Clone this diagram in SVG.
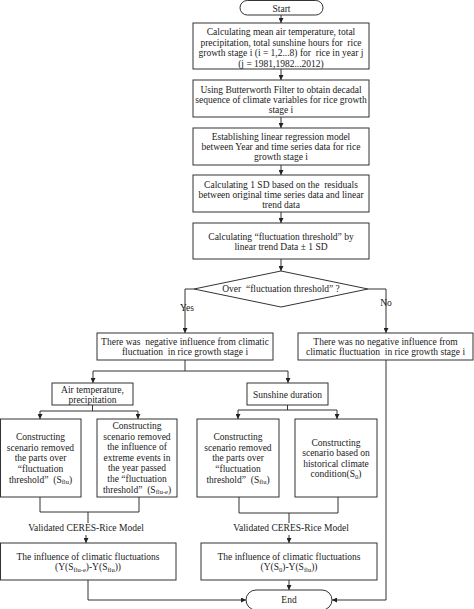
<svg xmlns="http://www.w3.org/2000/svg" width="474" height="609" viewBox="0 0 474 609">
<style>
.box{fill:#fff;stroke:#333;stroke-width:1}
.ln{fill:none;stroke:#333;stroke-width:1}
text{font-family:"Liberation Serif","Times New Roman",serif;font-size:9.5px;fill:#1a1a1a;text-anchor:middle;white-space:pre}
.sub{font-size:6.5px}
</style>
<defs>
<marker id="arr" viewBox="0 0 6 6" refX="6" refY="3" markerWidth="5" markerHeight="5" orient="auto" markerUnits="userSpaceOnUse">
<path d="M0,0 L6,3 L0,6 z" fill="#222"/>
</marker>
</defs>
<rect width="474" height="609" fill="#fff"/>
<g id="connectors" class="ln">
<path d="M281,15 V23" marker-end="url(#arr)"/>
<path d="M281,69 V80" marker-end="url(#arr)"/>
<path d="M281,117 V128" marker-end="url(#arr)"/>
<path d="M281,165 V175" marker-end="url(#arr)"/>
<path d="M281,212 V223" marker-end="url(#arr)"/>
<path d="M281,259 V271" marker-end="url(#arr)"/>
<path d="M194,289 H185 V333" marker-end="url(#arr)"/>
<path d="M368,289 H386 V333" marker-end="url(#arr)"/>
<path d="M185,360 V371"/>
<path d="M93,371 H288"/>
<path d="M93,371 V383" marker-end="url(#arr)"/>
<path d="M288,371 V383" marker-end="url(#arr)"/>
<path d="M92.5,405 V411"/>
<path d="M40,411 H138"/>
<path d="M40,411 V419" marker-end="url(#arr)"/>
<path d="M138,411 V419" marker-end="url(#arr)"/>
<path d="M287.5,405 V410"/>
<path d="M238,410 H337"/>
<path d="M238,410 V419" marker-end="url(#arr)"/>
<path d="M337,410 V419" marker-end="url(#arr)"/>
<path d="M40,497 V512 H139 V497"/>
<path d="M88,512 V523"/>
<path d="M86,535 V543" marker-end="url(#arr)"/>
<path d="M239,497 V513 H338 V497"/>
<path d="M289,513 V523"/>
<path d="M289,535 V543" marker-end="url(#arr)"/>
<path d="M88,580 V600 H246" marker-end="url(#arr)"/>
<path d="M289,580 V590" marker-end="url(#arr)"/>
<path d="M386,360 V600 H332" marker-end="url(#arr)"/>
</g>
<g id="start">
<rect class="box" x="240" y="0.5" width="83" height="14.5" rx="7.25"/>
<text x="281.5" y="11.5">Start</text>
</g>
<g id="step1">
<rect class="box" x="193" y="23" width="176" height="46"/>
<text x="281" y="35">Calculating mean air temperature, total</text>
<text x="281" y="45.7">precipitation, total sunshine hours for  rice</text>
<text x="281" y="56.3">growth stage i (i = 1,2...8) for  rice in year j</text>
<text x="281" y="66.5">(j = 1981,1982...2012)</text>
</g>
<g id="step2">
<rect class="box" x="193" y="80" width="176" height="37"/>
<text x="281" y="92.5">Using Butterworth Filter to obtain decadal</text>
<text x="281" y="102.5">sequence of climate variables for rice growth</text>
<text x="281" y="112.5">stage i</text>
</g>
<g id="step3">
<rect class="box" x="193" y="128" width="176" height="37"/>
<text x="281" y="140">Establishing linear regression model</text>
<text x="281" y="150">between Year and time series data for rice</text>
<text x="281" y="159.5">growth stage i</text>
</g>
<g id="step4">
<rect class="box" x="193" y="175" width="176" height="37"/>
<text x="281" y="187.5">Calculating 1 SD based on the  residuals</text>
<text x="281" y="197.5">between original time series data and linear</text>
<text x="281" y="207.5">trend data</text>
</g>
<g id="step5">
<rect class="box" x="193" y="223" width="176" height="36"/>
<text x="281" y="239.5">Calculating “fluctuation threshold” by</text>
<text x="281" y="250">linear trend Data ± 1 SD</text>
</g>
<g id="decision">
<polygon class="box" points="281,271 368,289 281,307 194,289"/>
<text x="281" y="291.5">Over  “fluctuation threshold” ?</text>
<text x="187" y="311">Yes</text>
<text x="386" y="306">No</text>
</g>
<g id="yes-box">
<rect class="box" x="97" y="333" width="176" height="27"/>
<text x="185" y="345">There was  negative influence from climatic</text>
<text x="185" y="354.5">fluctuation  in rice growth stage i</text>
</g>
<g id="no-box">
<rect class="box" x="298" y="333" width="175" height="27"/>
<text x="385.5" y="345">There was no negative influence from</text>
<text x="385.5" y="354.5">climatic fluctuation  in rice growth stage i</text>
</g>
<g id="air">
<rect class="box" x="52" y="383" width="81" height="22"/>
<text x="92.5" y="392.5">Air temperature,</text>
<text x="92.5" y="402.5">precipitation</text>
</g>
<g id="sun">
<rect class="box" x="247" y="383" width="81" height="22"/>
<text x="287.5" y="397.5">Sunshine duration</text>
</g>
<g id="l1">
<rect class="box" x="0.5" y="419" width="80.5" height="78"/>
<text x="40.5" y="440">Constructing</text>
<text x="40.5" y="450.5">scenario removed</text>
<text x="40.5" y="461">the parts over</text>
<text x="40.5" y="471.7">“fluctuation</text>
<text x="40.5" y="482.5">threshold”  (S<tspan class="sub" dy="1.5">flu</tspan><tspan dy="-1.5">)</tspan></text>
</g>
<g id="l2">
<rect class="box" x="97" y="419" width="80" height="78"/>
<text x="137" y="429">Constructing</text>
<text x="137" y="439.5">scenario removed</text>
<text x="137" y="450">the influence of</text>
<text x="137" y="460.5">extreme events in</text>
<text x="137" y="471.2">the year passed</text>
<text x="137" y="482">the “fluctuation</text>
<text x="137" y="492.5">threshold”  (S<tspan class="sub" dy="1.5">flu-e</tspan><tspan dy="-1.5">)</tspan></text>
</g>
<g id="r1">
<rect class="box" x="197" y="419" width="82" height="78"/>
<text x="238" y="440">Constructing</text>
<text x="238" y="450.5">scenario removed</text>
<text x="238" y="461">the parts over</text>
<text x="238" y="471.7">“fluctuation</text>
<text x="238" y="482.5">threshold”  (S<tspan class="sub" dy="1.5">flu</tspan><tspan dy="-1.5">)</tspan></text>
</g>
<g id="r2">
<rect class="box" x="295" y="419" width="82" height="78"/>
<text x="336" y="446">Constructing</text>
<text x="336" y="456.3">scenario based on</text>
<text x="336" y="466.7">historical climate</text>
<text x="336" y="477">condition(S<tspan class="sub" dy="1.5">0</tspan><tspan dy="-1.5">)</tspan></text>
</g>
<g id="model-left">
<text x="86" y="531">Validated CERES-Rice Model</text>
</g>
<g id="model-right">
<text x="291" y="531">Validated CERES-Rice Model</text>
</g>
<g id="inf-left">
<rect class="box" x="0.5" y="543" width="175.5" height="37"/>
<text x="88" y="559.5">The influence of climatic fluctuations</text>
<text x="88" y="570">(Y(S<tspan class="sub" dy="1.5">flu-e</tspan><tspan dy="-1.5">)-Y(S</tspan><tspan class="sub" dy="1.5">flu</tspan><tspan dy="-1.5">))</tspan></text>
</g>
<g id="inf-right">
<rect class="box" x="201" y="543" width="176" height="37"/>
<text x="289" y="559.5">The influence of climatic fluctuations</text>
<text x="289" y="570">(Y(S<tspan class="sub" dy="1.5">0</tspan><tspan dy="-1.5">)-Y(S</tspan><tspan class="sub" dy="1.5">flu</tspan><tspan dy="-1.5">))</tspan></text>
</g>
<g id="end">
<rect class="box" x="246" y="590" width="86" height="20" rx="10"/>
<text x="289" y="603">End</text>
</g>
</svg>
